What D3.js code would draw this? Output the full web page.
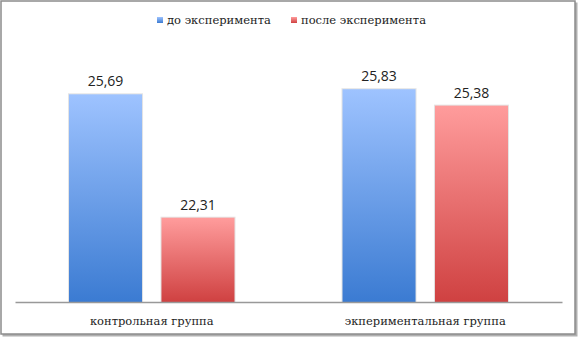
<!doctype html>
<html lang="ru">

<head>
    <meta charset="utf-8">
    <title>До и после эксперимента</title>
    <script src="https://cdn.jsdelivr.net/npm/d3@7"></script>
    <style>
        body {
            margin: 0;
            background: #ffffff;
        }
        .serif {
            font-family: 'DejaVu Serif', serif;
            font-size: 11.5px;
            fill: #222;
        }
    </style>
</head>

<body>
    <svg></svg>

    <script>
        // data
        var groups = ["контрольная группа", "экпериментальная группа"];
        var seriesNames = ["до эксперимента", "после эксперимента"];
        var before = [25.69, 25.83];
        var after = [22.31, 25.38];
        var yDomain = [20, 26];

        var width = 578;
        var height = 338;
        var plot = { left: 15, right: 562, top: 83, bottom: 302 };

        var svg = d3.select('svg').attr('width', width).attr('height', height);

        // frame with a small shadow
        svg.append('rect')
            .attr('x', 2.5).attr('y', 2.5)
            .attr('width', 575).attr('height', 334)
            .attr('fill', '#b0b0b0');
        svg.append('rect')
            .attr('x', 1).attr('y', 1)
            .attr('width', 574).attr('height', 333)
            .attr('fill', '#ffffff')
            .attr('stroke', '#8c8c8c')
            .attr('stroke-width', 1.5);

        // gradients for the bars
        var defs = svg.append('defs');
        var colors = [["#9ec3ff", "#3b7bd2"], ["#ff9c9c", "#cf4141"]];
        colors.forEach(function (c, i) {
            var g = defs.append('linearGradient')
                .attr('id', 'grad' + i)
                .attr('x1', 0).attr('y1', 0).attr('x2', 0).attr('y2', 1);
            g.append('stop').attr('offset', '0%').attr('stop-color', c[0]);
            g.append('stop').attr('offset', '100%').attr('stop-color', c[1]);
        });

        var x0 = d3.scaleBand()
            .domain(groups)
            .range([plot.left, plot.right])
            .paddingInner(0)
            .paddingOuter(0);

        var x1 = d3.scaleBand()
            .domain([0, 1])
            .range([54, x0.bandwidth() - 54])
            .paddingInner(0.21);

        var y = d3.scaleLinear()
            .domain(yDomain)
            .range([plot.bottom, plot.top]);

        var rows = groups.map(function (g, i) {
            return { group: g, values: [before[i], after[i]] };
        });

        var grp = svg.selectAll('g.group')
            .data(rows)
            .enter()
            .append('g')
            .attr('class', 'group')
            .attr('transform', function (d) { return 'translate(' + x0(d.group) + ',0)'; });

        // soft edge round each bar
        grp.selectAll('rect.shadow')
            .data(function (d) { return d.values; })
            .enter()
            .append('rect')
            .attr('class', 'shadow')
            .attr('x', function (d, i) { return x1(i) - 1; })
            .attr('y', function (d) { return y(d) - 1; })
            .attr('width', x1.bandwidth() + 2)
            .attr('height', function (d) { return plot.bottom - y(d) + 1; })
            .attr('fill', '#e4e4e4');

        grp.selectAll('rect.bar')
            .data(function (d) { return d.values; })
            .enter()
            .append('rect')
            .attr('class', 'bar')
            .attr('x', function (d, i) { return x1(i); })
            .attr('y', function (d) { return y(d); })
            .attr('width', x1.bandwidth())
            .attr('height', function (d) { return plot.bottom - y(d); })
            .attr('fill', function (d, i) { return 'url(#grad' + i + ')'; });

        grp.selectAll('text.value')
            .data(function (d) { return d.values; })
            .enter()
            .append('text')
            .attr('class', 'value')
            .attr('x', function (d, i) { return x1(i) + x1.bandwidth() / 2; })
            .attr('y', function (d) { return y(d) - 8; })
            .attr('text-anchor', 'middle')
            .style('font-family', "'Open Sans', 'Liberation Sans', sans-serif")
            .style('font-size', '14px')
            .style('fill', '#222')
            .text(function (d) { return d.toFixed(2).replace('.', ','); });

        // x axis
        var xAxis = d3.axisBottom(x0).tickSize(0).tickPadding(15);
        var ax = svg.append('g')
            .attr('class', 'axis-x')
            .attr('transform', 'translate(0,' + plot.bottom + ')')
            .call(xAxis);
        ax.attr('font-family', null).attr('font-size', null);
        ax.select('.domain').attr('stroke', '#999').attr('stroke-width', 1.5);
        ax.selectAll('text').attr('class', 'serif').attr('fill', null);

        // legend
        var legendX = [157, 291];
        var legend = svg.selectAll('g.legend')
            .data(seriesNames)
            .enter()
            .append('g')
            .attr('class', 'legend')
            .attr('transform', function (d, i) { return 'translate(' + legendX[i] + ',17)'; });
        legend.append('rect')
            .attr('width', 6).attr('height', 6)
            .attr('fill', function (d, i) { return 'url(#grad' + i + ')'; });
        legend.append('text')
            .attr('class', 'serif')
            .attr('x', 10)
            .attr('y', 7)
            .text(function (d) { return d; });
    </script>

</body>

</html>
